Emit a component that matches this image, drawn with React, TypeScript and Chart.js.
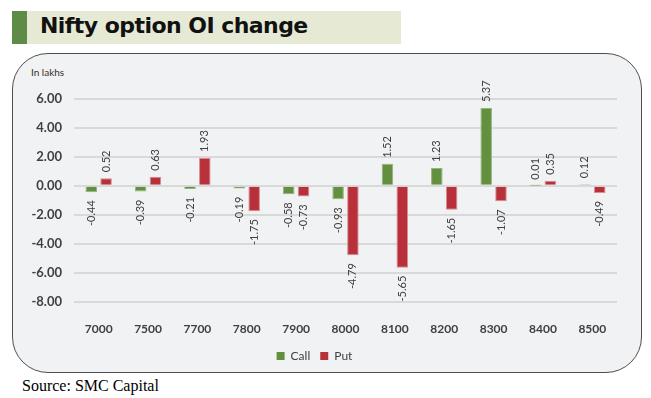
import React, { useEffect, useRef } from "react";
import { Chart, registerables } from "chart.js";

Chart.register(...registerables);

const categories = ["7000", "7500", "7700", "7800", "7900", "8000", "8100", "8200", "8300", "8400", "8500"];
const callValues = [-0.44, -0.39, -0.21, -0.19, -0.58, -0.93, 1.52, 1.23, 5.37, 0.01, 0.12];
const putValues = [0.52, 0.63, 1.93, -1.75, -0.73, -4.79, -5.65, -1.65, -1.07, 0.35, -0.49];
const seriesNames = ["Call", "Put"];

const GREEN = "#62903f";
const GREEN_EDGE = "#93b47e";
const RED = "#b7303a";
const RED_EDGE = "#d98c91";
const TEXT = "#404040";

const barLabelPlugin = {
  id: "barLabels",
  afterDatasetsDraw(chart: any) {
    const ctx = chart.ctx;
    chart.data.datasets.forEach((ds: any, di: number) => {
      const meta = chart.getDatasetMeta(di);
      meta.data.forEach((bar: any, i: number) => {
        const v = ds.data[i] as number;
        const { x, y } = bar.getProps(["x", "y"], true);
        ctx.save();
        ctx.font = "11px Lato";
        ctx.fillStyle = TEXT;
        ctx.translate(x, v >= 0 ? y - 6 : y + 8);
        ctx.rotate(-Math.PI / 2);
        ctx.textAlign = v >= 0 ? "left" : "right";
        ctx.textBaseline = "middle";
        ctx.fillText(v.toFixed(2), 0, 0);
        ctx.restore();
      });
    });
  },
};

export default function App() {
  const canvasRef = useRef<HTMLCanvasElement | null>(null);

  useEffect(() => {
    if (!canvasRef.current) return;
    const chart = new Chart(canvasRef.current, {
      type: "bar",
      data: {
        labels: categories,
        datasets: [
          {
            label: seriesNames[0],
            data: callValues,
            backgroundColor: GREEN,
            borderColor: GREEN_EDGE,
            borderWidth: 1,
            categoryPercentage: 0.6,
            barPercentage: 0.78,
          },
          {
            label: seriesNames[1],
            data: putValues,
            backgroundColor: RED,
            borderColor: RED_EDGE,
            borderWidth: 1,
            categoryPercentage: 0.6,
            barPercentage: 0.78,
          },
        ],
      },
      options: {
        responsive: false,
        animation: false,
        devicePixelRatio: 1,
        layout: { padding: { left: 0, right: 25, top: 46, bottom: 1 } },
        plugins: {
          tooltip: { enabled: false },
          legend: {
            position: "bottom",
            labels: {
              boxWidth: 8,
              boxHeight: 8,
              padding: 10,
              color: TEXT,
              font: { family: "Lato", size: 12 },
              generateLabels: (c: any) =>
                c.data.datasets.map((d: any, i: number) => ({
                  text: d.label,
                  fillStyle: d.backgroundColor,
                  strokeStyle: d.backgroundColor,
                  lineWidth: 0,
                  fontColor: TEXT,
                  datasetIndex: i,
                })),
            },
          },
        },
        scales: {
          x: {
            grid: { display: false },
            border: { display: false },
            ticks: {
              color: TEXT,
              padding: 12,
              font: { family: "Lato", size: 12, weight: "bold" },
              maxRotation: 0,
            },
            afterFit: (s: any) => {
              s.height = 38.3;
            },
          },
          y: {
            min: -8,
            max: 6,
            border: { display: false },
            grid: { color: "#d9d9d9", lineWidth: 2, drawTicks: false },
            ticks: {
              stepSize: 2,
              padding: 12,
              color: TEXT,
              font: { family: "Lato", size: 13, weight: "bold" },
              callback: (v: any) => Number(v).toFixed(2),
            },
            afterFit: (s: any) => {
              s.width = 62;
            },
          },
        },
      },
      plugins: [barLabelPlugin],
    } as any);
    return () => chart.destroy();
  }, []);

  return (
    <div style={{ position: "absolute", left: 0, top: 0, width: 651, height: 398, background: "#ffffff", overflow: "hidden" }}>
      <div style={{ position: "absolute", left: 12, top: 11, width: 389, height: 33, background: "#e6ead5" }} />
      <div style={{ position: "absolute", left: 12, top: 11, width: 15, height: 33, background: "#5e8b45" }} />
      <span
        style={{
          position: "absolute",
          left: 40,
          top: 14.7,
          fontFamily: "DejaVu Sans",
          fontWeight: "bold",
          fontSize: 22,
          lineHeight: "22px",
          letterSpacing: "-0.55px",
          color: "#111",
          whiteSpace: "nowrap",
        }}
      >
        Nifty option OI change
      </span>
      <div
        style={{
          position: "absolute",
          left: 12,
          top: 53,
          width: 630,
          height: 320,
          boxSizing: "border-box",
          border: "1.5px solid #4f4f4f",
          borderRadius: 36,
          background: "#f1f2f4",
        }}
      />
      <span
        style={{
          position: "absolute",
          left: 31,
          top: 66.5,
          fontFamily: "Lato",
          fontSize: 10,
          lineHeight: "10px",
          color: "#3a2e25",
          whiteSpace: "nowrap",
        }}
      >
        In lakhs
      </span>
      <canvas ref={canvasRef} width={630} height={320} style={{ position: "absolute", left: 12, top: 53, width: 630, height: 320 }} />
      <span
        style={{
          position: "absolute",
          left: 22,
          top: 376,
          fontFamily: "Liberation Serif",
          fontSize: 16,
          lineHeight: "20px",
          color: "#000",
          whiteSpace: "nowrap",
        }}
      >
        Source: SMC Capital
      </span>
    </div>
  );
}
